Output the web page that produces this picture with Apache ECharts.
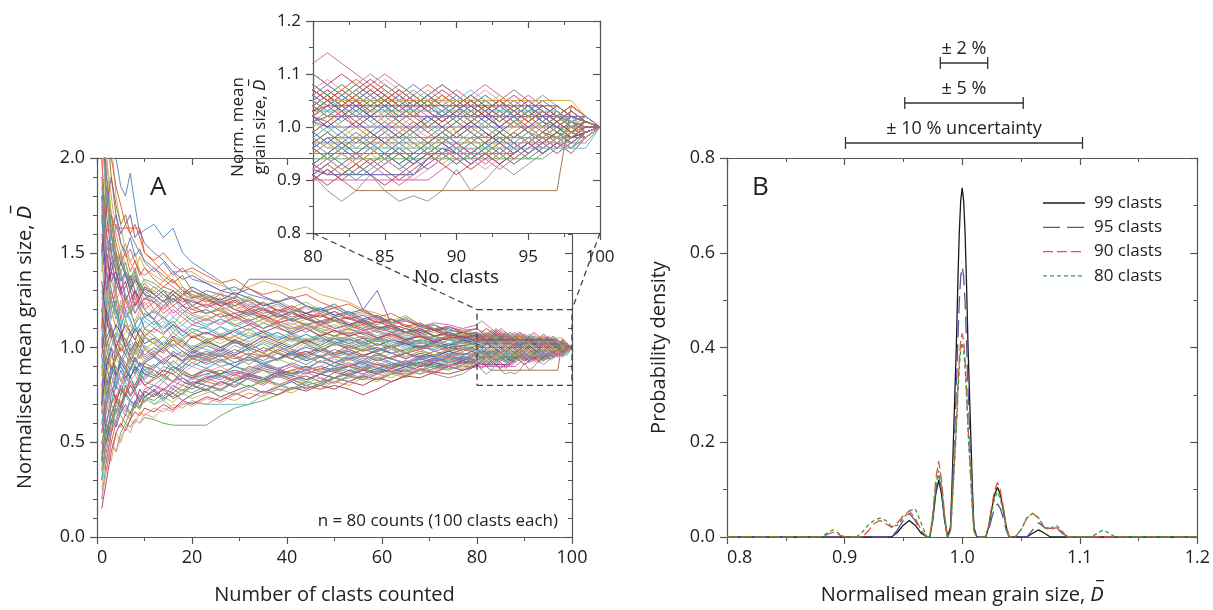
<!DOCTYPE html>
<html>
<head>
<meta charset="utf-8">
<script src="https://cdn.jsdelivr.net/npm/echarts@6/dist/echarts.min.js"></script>
<style>
html,body{margin:0;padding:0;background:#fff}
#chart{width:1213px;height:610px}
</style>
</head>
<body>
<div id="chart"></div>
<script>
// Clast counts at which each running mean is recorded
const clasts = [1,2,3,4,5,6,7,8,9,10,12,14,16,18,20,23,26,29,32,35,38,41,44,47,50,53,56,59,62,65,68,71,74,77,80,
                81,82,83,84,85,86,87,88,89,90,91,92,93,94,95,96,97,98,99,100];

// Normalised running mean grain size (x100) for each of the 80 counts
const runs = [
[260,210,230,200,185,180,192,175,160,162,165,158,163,150,145,140,135,128,122,120,118,115,118,120,117,115,113,110,112,108,106,105,104,106,104,106,103,105,102,104,106,103,105,102,104,101,103,105,102,104,101,103,100,102,100],
[230,190,170,163,163,163,163,163,163,150,145,140,135,130,128,125,122,118,120,116,112,110,112,108,106,108,105,104,106,103,102,104,102,101,102,101,103,100,102,104,101,103,100,102,99,101,103,100,102,99,101,100,102,99,100],
[150,180,160,140,150,145,135,140,130,125,130,135,140,140,140,135,133,130,132,135,133,130,132,128,126,124,120,118,115,112,110,106,104,105,103,105,103,105,103,101,103,105,107,105,103,105,103,101,103,101,103,101,99,101,100],
[70,120,150,130,140,125,120,130,125,120,115,122,128,124,126,130,128,126,136,136,136,136,136,136,136,136,120,130,112,108,106,104,106,104,102,104,102,100,102,104,102,104,106,104,102,104,102,100,102,104,102,100,98,100,100],
[40,60,50,45,55,60,58,62,60,63,62,60,59,59,59,59,64,68,70,72,75,78,80,82,84,86,88,87,90,91,92,94,95,94,96,94,96,98,96,94,96,94,96,98,96,94,96,98,96,98,96,98,100,98,100],
[30,50,60,70,65,75,70,68,72,75,70,72,68,70,71,70,70,70,70,75,78,78,79,80,82,84,85,88,87,90,92,94,93,95,96,98,96,94,96,98,96,98,100,98,96,98,100,98,96,98,100,98,97,99,100],
[90,80,85,100,95,90,85,88,92,90,88,85,90,86,84,88,85,82,86,84,80,83,80,78,80,78,75,78,82,85,88,87,90,92,93,95,97,95,93,95,97,95,97,99,97,95,97,99,97,95,97,99,101,99,100],
[120,140,160,150,130,140,135,125,130,128,120,125,118,122,120,118,120,115,118,116,120,118,115,117,114,116,113,115,112,114,111,113,112,110,112,114,112,110,108,110,108,106,108,106,104,106,108,106,104,106,104,102,104,102,100],
[50,60,70,65,75,80,75,78,72,76,80,78,82,80,84,82,85,83,86,84,87,85,88,86,84,86,84,87,88,86,88,86,84,86,91,88,86,88,91,88,86,87,86,88,92,88,90,93,91,93,95,97,96,98,100],
[60,50,70,80,75,85,80,78,82,85,88,85,82,86,84,86,88,85,90,88,86,88,90,87,89,90,88,91,89,92,90,91,89,90,90,92,90,88,88,88,88,88,88,88,88,88,88,88,88,88,88,88,104,102,100],
[180,150,130,120,110,100,95,90,88,86,84,88,86,82,80,84,86,88,86,90,88,86,88,90,88,90,92,89,91,90,92,90,91,92,92,91,91,91,91,91,91,91,94,96,95,97,95,97,99,97,99,98,100,99,100],
[200,150,120,110,125,115,120,112,118,110,108,112,105,110,106,108,104,106,102,105,108,104,102,105,103,101,104,102,100,103,101,102,100,101,102,100,102,104,102,100,102,100,98,100,102,104,102,100,102,100,101,99,101,100,100],
[20,40,55,70,80,75,85,78,82,88,85,90,88,92,90,94,90,92,95,92,94,96,93,95,92,94,96,93,95,97,95,96,98,96,97,99,97,95,97,99,97,99,97,99,101,99,97,99,97,99,98,100,98,100,100],
[310,250,210,180,165,150,145,150,140,135,132,128,125,130,122,118,120,116,112,115,112,110,113,110,108,110,107,109,106,108,105,106,104,105,103,105,103,105,107,105,103,105,103,101,103,105,103,101,103,101,103,101,102,101,100],
[100,130,115,125,110,120,115,108,112,118,115,110,114,108,112,110,106,109,105,108,104,107,103,106,102,105,101,104,100,103,99,102,100,101,99,101,99,97,99,101,99,97,95,97,99,97,99,97,95,97,99,97,99,98,100],
[45,35,50,60,58,65,62,70,68,72,75,78,76,80,78,82,80,84,86,83,85,88,86,89,87,90,88,91,89,92,90,93,94,92,95,95,95,95,95,95,95,95,95,95,97,95,97,99,97,95,97,99,97,99,100],
[170,200,180,160,150,155,145,140,148,142,138,135,140,132,128,125,120,122,118,115,117,114,112,110,112,109,111,108,106,108,105,104,106,103,104,102,104,106,104,102,104,102,100,102,104,102,104,102,100,102,104,102,100,102,100],
[80,100,90,85,95,92,88,95,90,93,96,92,98,95,99,96,100,97,102,98,101,97,100,98,102,99,101,98,100,102,99,101,100,98,101,102,102,102,102,102,102,102,102,102,102,102,102,102,102,102,102,102,102,102,100],
[150,110,130,120,105,115,108,112,104,110,106,102,108,104,100,104,100,103,99,102,98,101,104,100,103,101,99,102,100,98,101,99,102,100,98,100,98,96,98,100,98,96,98,100,102,100,98,100,102,100,98,100,99,101,100],
[60,80,70,85,78,82,75,80,86,82,80,84,82,86,83,86,84,88,85,83,87,85,88,86,90,88,91,89,92,90,93,91,94,95,93,95,93,95,97,95,93,95,97,95,93,95,97,95,97,99,97,95,97,99,100],
[240,170,150,140,130,135,125,130,122,126,124,120,126,122,118,120,116,118,114,117,113,115,112,114,110,112,109,111,108,110,107,109,106,108,105,107,105,107,109,107,105,103,105,107,105,103,105,103,101,103,105,103,101,102,100],
[110,90,100,95,105,100,96,102,98,95,98,94,97,93,96,94,97,95,93,96,94,97,95,92,95,94,96,93,95,97,94,96,95,97,96,98,98,98,98,98,98,98,98,98,98,98,98,98,98,98,98,98,98,98,100],
[35,70,90,80,95,88,100,92,98,105,102,106,100,104,108,104,106,102,105,108,104,106,103,105,102,104,106,103,105,102,104,103,101,103,105,103,105,103,101,103,105,107,105,103,105,103,105,103,101,103,101,99,101,99,100],
[190,160,140,150,135,140,132,138,130,134,128,132,130,126,124,122,126,120,118,121,116,119,115,117,114,112,115,111,110,108,110,106,108,105,107,105,107,105,103,105,107,105,103,101,103,105,103,105,107,105,103,101,103,101,100],
[70,55,65,72,68,76,72,70,78,74,77,73,76,72,75,78,74,77,80,76,79,82,78,81,84,82,85,83,86,88,86,89,90,88,91,93,91,93,95,97,95,93,95,97,95,93,95,93,95,97,95,97,99,98,100],
[130,120,140,125,130,118,122,128,120,124,118,122,116,120,114,117,113,116,112,115,111,113,110,112,108,110,107,109,106,104,106,103,105,102,104,106,104,106,104,102,100,102,104,102,104,106,104,102,104,102,100,102,100,101,100],
[95,75,85,90,82,88,84,80,86,83,88,84,90,87,85,89,86,90,88,92,89,91,88,93,90,92,89,94,91,93,90,95,92,94,93,95,95,95,95,95,95,95,95,95,95,95,95,95,95,97,99,97,99,98,100],
[280,200,170,150,145,140,130,135,128,132,130,126,130,125,128,126,129,124,127,122,125,121,124,120,122,118,120,116,114,117,112,110,108,106,108,106,108,106,104,106,104,102,104,106,104,102,104,106,104,102,100,102,101,100,100],
[55,75,85,78,88,82,90,86,92,88,91,87,93,89,95,91,94,90,96,93,97,94,91,95,92,96,93,97,94,92,96,94,97,95,93,91,93,91,93,95,93,91,93,95,93,95,97,95,93,95,97,99,97,99,100],
[160,140,120,130,115,125,118,122,128,120,124,118,122,126,120,123,119,116,120,117,114,118,115,112,116,113,110,114,111,108,112,109,106,104,107,105,107,109,107,105,107,105,103,105,107,105,103,105,103,101,103,101,103,101,100],
[25,45,40,55,50,58,62,60,66,64,68,66,70,68,72,70,74,72,76,74,78,76,80,78,82,80,84,82,86,84,88,86,90,89,91,93,91,93,95,93,95,97,95,93,95,97,95,97,99,97,95,97,99,98,100],
[120,105,112,100,108,104,98,103,100,106,102,98,104,100,97,101,98,103,100,97,102,99,96,100,97,101,98,100,97,99,101,98,100,99,101,100,100,100,100,100,100,100,100,100,100,100,100,100,100,100,100,100,100,100,100],
[85,110,125,115,120,128,118,124,120,116,120,116,112,118,114,111,115,112,109,113,110,108,112,109,106,110,107,104,108,105,103,106,104,102,105,103,105,107,105,103,101,103,105,103,101,103,101,99,101,103,101,103,101,102,100],
[210,180,150,130,140,128,122,118,124,120,114,110,116,112,108,111,107,110,106,109,105,108,104,107,103,106,102,105,101,104,103,100,102,104,101,99,101,103,101,99,97,99,101,99,97,99,101,103,101,99,101,99,97,99,100],
[65,90,80,72,78,74,80,76,71,77,74,78,73,76,80,77,82,79,84,81,86,83,85,82,87,85,88,86,89,87,90,92,90,93,91,89,91,93,91,89,91,93,95,93,91,93,95,93,95,97,95,97,95,98,100],
[140,160,150,165,155,148,152,145,140,138,142,136,132,128,130,126,122,124,119,121,117,114,116,112,114,110,112,108,110,106,108,104,106,103,105,107,105,103,105,107,105,103,101,103,105,103,101,103,105,103,101,103,101,99,100],
[100,95,105,98,93,99,96,102,97,94,97,100,95,98,94,97,93,96,99,95,98,94,97,100,96,99,96,98,101,97,99,96,98,100,97,97,97,97,97,97,97,97,97,97,97,97,97,97,97,97,97,97,97,97,100],
[40,85,70,75,68,80,74,78,84,80,83,86,82,88,85,88,86,90,87,91,89,86,90,88,92,90,93,91,89,92,94,92,95,93,96,94,96,98,96,94,96,94,92,94,96,98,96,94,96,98,96,98,96,98,100],
[170,130,140,135,145,138,130,136,132,128,126,130,124,128,132,128,125,129,126,122,124,120,118,121,117,119,115,117,113,115,111,109,110,107,108,106,104,106,108,106,104,106,104,102,104,106,104,102,104,102,104,102,104,102,100],
[75,65,80,88,84,78,82,86,80,84,88,85,82,86,90,87,90,86,89,92,89,91,88,90,94,91,93,90,94,92,95,93,96,94,96,98,96,94,96,98,100,98,96,98,96,94,96,98,96,98,100,98,100,99,100],
[125,140,125,118,122,116,120,112,116,110,114,108,112,106,110,107,111,106,110,105,108,104,107,103,106,104,102,105,103,101,104,102,100,103,101,103,101,103,105,103,101,99,101,103,101,103,101,99,101,103,101,99,101,100,100],
[90,70,60,65,72,68,64,70,67,73,70,74,71,76,73,76,78,75,79,82,80,83,81,84,82,85,83,86,84,88,86,89,91,90,92,94,92,94,96,94,92,94,96,94,96,98,96,94,96,94,96,98,96,99,100],
[230,190,160,170,155,150,158,148,152,145,140,145,138,142,136,134,130,132,128,126,124,127,122,120,123,118,120,116,113,115,111,112,109,108,106,104,106,104,102,104,106,108,106,104,106,104,102,104,102,104,102,104,102,101,100],
[50,45,60,75,70,76,82,78,84,80,84,88,86,90,94,92,96,94,97,95,99,96,98,95,97,99,96,98,100,97,99,101,98,100,99,101,103,101,99,97,99,101,99,97,99,101,99,97,99,101,99,101,99,100,100],
[115,100,90,96,102,98,94,100,104,99,103,99,105,101,106,103,107,104,108,105,102,106,103,107,104,106,103,105,107,104,106,103,105,104,102,105,105,105,105,105,105,105,105,105,105,105,105,105,105,105,105,105,105,102,100],
[150,175,190,170,160,165,170,158,162,155,150,146,140,136,138,134,130,128,131,127,124,126,122,119,121,117,114,116,112,110,108,110,107,105,106,108,106,104,106,104,102,104,106,104,102,104,102,100,102,104,102,100,102,101,100],
[60,70,85,95,90,86,92,88,84,90,86,82,88,84,80,83,86,82,85,88,84,87,83,86,89,87,90,88,91,89,92,90,93,91,94,94,94,94,94,94,94,94,94,94,94,94,94,94,94,94,94,96,98,99,100],
[105,125,110,105,115,110,106,112,108,114,110,114,108,112,116,112,115,111,114,110,113,109,112,108,111,107,110,106,109,105,107,104,106,103,105,103,105,107,105,103,105,103,101,103,105,107,105,103,105,103,105,103,101,102,100],
[15,30,45,55,60,56,62,66,64,68,66,70,67,72,70,74,72,76,73,77,75,79,77,80,78,82,80,84,82,85,84,87,86,88,90,92,90,92,94,92,90,92,94,96,94,92,94,96,94,96,98,96,98,99,100],
[180,140,125,135,128,120,125,118,122,116,119,115,120,116,112,115,112,116,113,110,114,111,108,112,109,106,109,105,108,104,107,103,106,104,102,104,102,100,98,100,102,104,102,100,102,100,98,100,102,100,98,100,102,101,100],
[90,105,95,100,92,96,102,98,94,99,95,100,96,92,97,94,98,95,91,96,93,97,94,98,95,97,94,96,99,95,98,96,99,97,95,97,95,97,99,97,95,93,95,97,95,97,99,97,95,97,99,97,99,98,100],
[270,220,190,175,165,170,160,155,150,146,142,138,134,138,130,127,124,126,121,118,120,116,118,114,116,112,114,110,111,108,109,106,107,105,104,102,104,102,104,106,104,102,100,102,104,102,104,102,100,102,104,102,100,101,100],
[70,90,100,85,92,88,84,90,86,92,95,91,96,93,98,95,99,96,100,97,94,98,95,99,96,98,95,99,97,94,97,95,98,96,99,97,99,101,99,97,99,97,95,97,99,101,99,97,99,97,99,101,99,98,100],
[130,110,115,122,118,126,120,124,128,122,126,120,124,128,126,122,125,120,123,119,122,118,121,117,119,116,118,114,112,115,110,112,108,110,107,109,107,105,107,109,107,105,103,105,107,105,107,105,103,105,103,101,103,101,100],
[30,55,65,60,68,64,72,68,75,71,76,72,78,75,80,78,82,80,84,82,86,84,82,86,88,86,89,87,90,88,91,89,92,94,92,94,92,90,92,94,96,94,92,94,96,94,96,98,96,94,96,98,96,99,100],
[145,125,135,128,120,126,118,114,120,116,112,116,110,114,118,115,118,114,117,113,116,112,115,111,114,110,113,109,112,108,106,108,105,107,104,102,104,106,104,102,104,102,104,106,104,102,100,102,104,102,100,102,104,102,100],
[80,60,75,85,90,84,88,94,90,86,90,94,90,88,92,89,93,90,94,91,88,92,89,93,90,94,91,95,92,90,94,92,95,93,96,98,96,94,96,94,92,94,96,98,96,94,96,98,96,98,96,98,100,98,100],
[200,160,170,155,145,150,140,146,138,142,136,132,136,130,127,124,128,122,125,120,118,121,116,118,114,116,112,114,110,112,108,110,106,108,104,106,104,106,108,106,104,102,104,106,104,102,104,102,104,102,100,102,104,102,100],
[110,130,120,110,104,108,112,106,102,108,104,100,105,102,98,102,99,104,100,97,101,98,103,99,102,100,98,102,99,97,100,102,99,101,98,96,98,100,98,96,98,100,102,100,98,100,98,96,98,100,98,100,98,99,100],
[45,50,62,58,66,70,65,72,69,74,78,74,80,77,82,80,78,82,85,83,87,85,83,86,84,88,86,89,87,90,88,92,90,93,91,93,95,93,91,93,95,93,95,97,95,93,95,97,95,97,95,97,99,98,100],
[165,185,165,150,140,145,135,140,132,136,134,130,128,132,126,128,124,122,126,123,120,118,122,119,116,118,114,112,115,111,109,112,108,106,108,106,108,106,104,106,108,106,104,102,104,106,104,102,104,102,100,102,100,101,100],
[95,85,100,108,102,96,104,100,95,101,98,103,100,96,101,99,96,101,98,103,100,97,101,99,96,99,102,98,100,97,101,99,102,100,98,96,96,96,96,96,96,96,96,96,96,96,96,96,96,96,96,96,96,96,100],
[110,150,135,140,130,125,130,122,126,132,128,124,130,126,122,126,122,125,120,124,119,122,118,116,119,115,117,113,115,111,113,109,111,108,110,108,110,108,106,108,106,104,106,108,106,104,102,104,106,104,102,104,102,101,100],
[55,70,78,74,80,86,82,78,84,80,77,82,78,84,81,84,81,86,83,80,85,82,87,84,81,85,83,86,88,85,89,87,90,92,90,90,90,90,90,90,90,90,90,92,94,96,94,92,94,96,98,96,98,99,100],
[250,180,160,145,150,140,136,142,134,130,126,122,126,120,117,114,118,112,115,110,113,108,111,106,109,107,110,105,108,104,106,103,105,102,104,102,104,102,100,102,104,106,104,102,104,102,100,102,104,102,100,102,101,100,100],
[75,95,88,94,100,96,92,98,104,100,96,100,104,100,106,102,106,103,100,104,101,105,102,98,102,100,103,99,101,104,100,102,99,101,103,105,103,101,103,105,103,101,99,101,103,101,103,105,103,101,103,101,99,101,100],
[135,115,105,112,108,100,104,110,106,102,105,101,106,103,99,103,100,104,101,106,103,100,104,101,105,102,105,101,104,102,100,103,101,104,102,100,102,104,102,100,98,100,102,100,98,100,102,100,98,100,102,100,98,99,100],
[20,35,50,45,52,58,55,62,60,65,63,68,66,71,69,73,71,75,78,76,80,78,82,80,84,82,86,84,88,86,89,88,91,90,92,94,92,94,96,94,92,90,92,94,96,94,92,94,96,98,96,98,96,98,100],
[185,150,160,145,135,140,132,128,134,128,124,128,122,118,122,118,121,116,119,115,118,114,117,112,115,111,113,109,111,107,109,106,108,104,106,104,106,108,106,104,102,104,106,104,102,104,106,104,102,104,102,100,102,101,100],
[85,100,110,104,98,105,100,96,102,106,102,106,101,105,108,105,102,106,103,107,104,101,105,102,106,103,100,104,102,99,103,101,104,102,100,102,100,98,100,102,100,98,96,98,100,102,100,98,100,102,100,98,100,99,100],
[105,80,90,85,92,88,95,90,86,92,89,93,88,92,96,93,96,92,95,91,94,97,93,96,92,95,92,96,94,91,95,93,96,94,97,95,97,99,97,95,93,95,97,99,97,95,97,99,97,95,97,99,97,99,100],
[300,240,200,185,175,165,160,165,158,150,146,150,144,140,142,138,134,136,131,128,130,126,128,124,121,123,119,116,118,114,112,110,111,108,107,105,107,105,103,105,107,105,103,101,103,105,103,105,103,101,103,101,99,101,100],
[65,85,95,90,82,88,94,90,96,92,89,94,91,96,92,95,92,96,93,97,94,91,95,92,96,93,96,94,97,95,98,96,94,97,95,97,95,93,95,97,99,97,95,97,99,97,95,97,99,97,99,97,99,98,100],
[155,130,145,135,128,132,138,130,126,131,128,124,128,122,125,121,124,120,117,120,116,119,115,113,116,112,114,110,112,108,110,106,108,105,107,105,103,105,107,105,103,105,103,101,103,105,103,101,103,105,103,101,103,101,100],
[40,60,55,68,64,60,66,70,68,74,72,76,74,78,76,80,77,82,79,83,81,78,82,80,84,82,85,83,87,85,88,90,88,91,93,95,93,91,93,95,93,95,97,95,93,95,97,95,93,95,97,99,97,99,100],
[115,135,125,118,112,118,114,108,112,116,112,116,110,106,110,107,111,108,105,109,106,103,107,104,101,104,102,105,103,100,103,101,104,102,103,103,103,103,103,103,103,103,103,103,103,103,103,103,103,103,103,103,101,102,100],
[95,120,108,100,106,112,108,104,110,106,110,107,112,109,105,108,105,109,112,108,111,107,110,106,109,106,108,105,107,104,106,103,105,106,103,104,104,104,104,104,104,104,104,104,104,104,104,104,104,104,104,104,102,101,100],
[50,40,55,62,70,66,72,76,73,78,80,77,82,84,81,85,83,87,85,89,87,90,88,86,89,91,89,92,90,93,91,94,92,95,93,91,93,95,93,91,89,91,93,95,97,95,93,95,97,95,97,95,97,99,100],
[175,145,155,142,148,140,134,138,132,128,132,128,124,127,130,126,123,127,124,120,123,119,122,118,121,117,119,115,113,116,112,110,111,109,110,108,106,108,110,108,106,104,106,108,106,104,106,104,102,104,106,104,102,101,100],
[120,100,110,104,98,102,108,104,100,96,100,97,102,98,95,98,95,99,96,100,97,94,98,95,99,96,99,97,94,97,95,98,96,99,97,99,97,95,97,99,101,99,97,99,101,99,97,99,101,99,97,99,98,100,100]
];

// Inset window (clasts 80-100, D 0.8-1.2)
const insetX = [80, 100];
const insetY = [0.8, 1.2];

// Kernel density of the normalised mean after subsampling N clasts
const kde99 = [[0.8,0],[0.94,0],[0.945,0.01],[0.95,0.025],[0.955,0.035],[0.96,0.025],[0.965,0.008],[0.97,0],[0.9725,0],[0.975,0.036],[0.9775,0.09],[0.98,0.12],[0.9825,0.09],[0.985,0.036],[0.9875,0],[0.99,0.02],[0.99125,0.1],[0.9925,0.2],[0.99375,0.3],[0.995,0.4],[0.99625,0.53],[0.9975,0.64],[0.99875,0.71],[1,0.737],[1.00125,0.71],[1.0025,0.64],[1.00375,0.53],[1.005,0.4],[1.00625,0.3],[1.0075,0.2],[1.00875,0.1],[1.01,0.02],[1.0125,0],[1.02,0],[1.0225,0.021],[1.025,0.058],[1.0275,0.089],[1.03,0.105],[1.0325,0.089],[1.035,0.058],[1.0375,0.021],[1.04,0],[1.055,0],[1.06,0.008],[1.065,0.015],[1.07,0.008],[1.075,0],[1.2,0]];
const kde95 = [[0.8,0],[0.94,0],[0.945,0.015],[0.95,0.035],[0.955,0.05],[0.96,0.035],[0.965,0.012],[0.97,0],[0.9725,0],[0.975,0.039],[0.9775,0.0975],[0.98,0.13],[0.9825,0.0975],[0.985,0.039],[0.9875,0],[0.99,0.015],[0.99125,0.078],[0.9925,0.155],[0.99375,0.23],[0.995,0.31],[0.99625,0.41],[0.9975,0.495],[0.99875,0.55],[1,0.57],[1.00125,0.55],[1.0025,0.495],[1.00375,0.41],[1.005,0.31],[1.00625,0.23],[1.0075,0.155],[1.00875,0.078],[1.01,0.015],[1.0125,0],[1.02,0],[1.0225,0.014],[1.025,0.039],[1.0275,0.06],[1.03,0.07],[1.0325,0.06],[1.035,0.039],[1.0375,0.014],[1.04,0],[1.055,0],[1.06,0.015],[1.065,0.03],[1.07,0.02],[1.075,0.018],[1.08,0.02],[1.085,0.008],[1.09,0],[1.2,0]];
const kde90 = [[0.8,0],[0.88,0],[0.885,0.005],[0.89,0.01],[0.895,0.005],[0.9,0],[0.915,0],[0.92,0.012],[0.925,0.028],[0.93,0.035],[0.935,0.028],[0.94,0.02],[0.945,0.03],[0.95,0.045],[0.955,0.055],[0.96,0.04],[0.965,0.015],[0.97,0],[0.9725,0],[0.975,0.048],[0.9775,0.12],[0.98,0.16],[0.9825,0.12],[0.985,0.048],[0.9875,0],[0.99,0.012],[0.99125,0.058],[0.9925,0.117],[0.99375,0.175],[0.995,0.233],[0.99625,0.31],[0.9975,0.373],[0.99875,0.414],[1,0.43],[1.00125,0.414],[1.0025,0.373],[1.00375,0.31],[1.005,0.233],[1.00625,0.175],[1.0075,0.117],[1.00875,0.058],[1.01,0.012],[1.0125,0],[1.02,0],[1.0225,0.023],[1.025,0.063],[1.0275,0.098],[1.03,0.115],[1.0325,0.098],[1.035,0.063],[1.0375,0.023],[1.04,0],[1.045,0],[1.05,0.015],[1.055,0.04],[1.06,0.05],[1.065,0.04],[1.07,0.02],[1.075,0.015],[1.08,0.02],[1.085,0.01],[1.09,0],[1.2,0]];
const kde80 = [[0.8,0],[0.88,0],[0.885,0.008],[0.89,0.015],[0.895,0.008],[0.9,0],[0.91,0],[0.915,0.01],[0.92,0.025],[0.925,0.035],[0.93,0.04],[0.935,0.035],[0.94,0.022],[0.945,0.025],[0.95,0.04],[0.955,0.055],[0.96,0.06],[0.965,0.03],[0.97,0],[0.9725,0],[0.975,0.042],[0.9775,0.105],[0.98,0.14],[0.9825,0.105],[0.985,0.042],[0.9875,0],[0.99,0.011],[0.99125,0.056],[0.9925,0.111],[0.99375,0.167],[0.995,0.223],[0.99625,0.295],[0.9975,0.356],[0.99875,0.395],[1,0.41],[1.00125,0.395],[1.0025,0.356],[1.00375,0.295],[1.005,0.223],[1.00625,0.167],[1.0075,0.111],[1.00875,0.056],[1.01,0.011],[1.0125,0],[1.02,0],[1.0225,0.019],[1.025,0.052],[1.0275,0.081],[1.03,0.095],[1.0325,0.081],[1.035,0.052],[1.0375,0.019],[1.04,0],[1.045,0],[1.05,0.015],[1.055,0.04],[1.06,0.05],[1.065,0.04],[1.07,0.02],[1.075,0.018],[1.08,0.025],[1.085,0.012],[1.09,0],[1.11,0],[1.115,0.008],[1.12,0.015],[1.125,0.008],[1.13,0],[1.2,0]];
const kdeNames = ['99 clasts', '95 clasts', '90 clasts', '80 clasts'];

// Uncertainty bands drawn above panel B
const bands = [[0.98, 1.02], [0.95, 1.05], [0.90, 1.10]];
const bandLabels = ['± 2 %', '± 5 %', '± 10 % uncertainty'];

const FONT = '"Open Sans", "Noto Sans", sans-serif';
const INK = '#222';
const AXIS = '#555';
const palette = ['#4f81bd','#e4572e','#d9a441','#7e57a5','#62a35a','#5bb6cf','#b5364a','#d35aa0','#8c8c8c','#9a6b3f','#3f4f9f','#e98fb0','#4f9c95','#b8b84a'];

function axis(o) {
  const base = {
    type: 'value',
    axisLine: { show: true, onZero: false, lineStyle: { color: AXIS, width: 1.2 } },
    axisTick: { show: true, inside: !!o.tickInside, length: 7, lineStyle: { color: AXIS, width: 1.2 } },
    minorTick: { show: true, splitNumber: o.minor || 2, length: 4, lineStyle: { color: AXIS, width: 1 } },
    splitLine: { show: false },
    axisLabel: { show: !o.noLabel, color: INK, fontSize: o.labelSize || 18, fontFamily: FONT, margin: o.margin || 12,
                 formatter: o.fmt, alignMinLabel: o.alignMin },
    nameTextStyle: { color: INK, fontSize: o.nameSize || 20, fontFamily: FONT, lineHeight: o.lineHeight,
                     rich: { i: { fontStyle: 'italic', fontSize: o.nameSize || 20, fontFamily: FONT, color: INK } } },
    nameLocation: 'middle',
    z: o.z || 0
  };
  ['tickInside','minor','noLabel','labelSize','margin','fmt','nameSize','lineHeight','alignMin'].forEach(k => delete o[k]);
  return Object.assign(base, o);
}
const f1 = v => v.toFixed(1);

const xAxes = [
  axis({ gridIndex: 0, min: 0, max: 100, interval: 20, position: 'bottom', name: 'Number of clasts counted', nameGap: 48, alignMin: 'left' }),
  axis({ gridIndex: 0, min: 0, max: 100, interval: 20, position: 'top', tickInside: true, noLabel: true }),
  axis({ gridIndex: 1, min: insetX[0], max: insetX[1], interval: 5, position: 'bottom', name: 'No. clasts', nameGap: 35, labelSize: 17, nameSize: 19, margin: 16, z: 10 }),
  axis({ gridIndex: 1, min: insetX[0], max: insetX[1], interval: 5, position: 'top', tickInside: true, noLabel: true, z: 10 }),
  axis({ gridIndex: 2, min: 0.8, max: 1.2, interval: 0.1, position: 'bottom', name: 'Normalised mean grain size, {i|D\u0305}', nameGap: 48, fmt: f1, alignMin: 'left' }),
  axis({ gridIndex: 2, min: 0.8, max: 1.2, interval: 0.1, position: 'top', tickInside: true, noLabel: true }),
  { type: 'value', gridIndex: 3, min: 0.8, max: 1.2, show: false }
];
const yAxes = [
  axis({ gridIndex: 0, min: 0, max: 2, interval: 0.5, minor: 5, position: 'left', name: 'Normalised mean grain size, {i|D\u0305}', nameGap: 62, fmt: f1 }),
  axis({ gridIndex: 0, min: 0, max: 2, interval: 0.5, minor: 5, position: 'right', tickInside: true, noLabel: true }),
  axis({ gridIndex: 1, min: insetY[0], max: insetY[1], interval: 0.1, position: 'left', name: 'Norm. mean\ngrain size, {i|D\u0305}', nameGap: 42, labelSize: 17, nameSize: 17, lineHeight: 22, margin: 12, fmt: f1, z: 10 }),
  axis({ gridIndex: 1, min: insetY[0], max: insetY[1], interval: 0.1, position: 'right', tickInside: true, noLabel: true, z: 10 }),
  axis({ gridIndex: 2, min: 0, max: 0.8, interval: 0.2, position: 'left', name: 'Probability density', nameGap: 58, fmt: f1 }),
  axis({ gridIndex: 2, min: 0, max: 0.8, interval: 0.2, position: 'right', tickInside: true, noLabel: true }),
  { type: 'value', gridIndex: 3, min: -0.5, max: 2.5, inverse: true, show: false }
];

const series = [];
runs.forEach((r, k) => {
  const pts = clasts.map((c, i) => [c, r[i] / 100]);
  const color = palette[k % palette.length];
  const common = { type: 'line', data: pts, symbol: 'none', silent: true, animation: false,
                   lineStyle: { width: 1, color: color, opacity: 0.9 } };
  series.push(Object.assign({}, common, { xAxisIndex: 0, yAxisIndex: 0, z: 2 }));
  series.push(Object.assign({}, common, { xAxisIndex: 2, yAxisIndex: 2, z: 11 }));
});

// zoom window outline in panel A
series.push({
  type: 'line', xAxisIndex: 0, yAxisIndex: 0, z: 6, symbol: 'none', silent: true, animation: false,
  data: [[insetX[0], insetY[0]], [insetX[1], insetY[0]], [insetX[1], insetY[1]], [insetX[0], insetY[1]], [insetX[0], insetY[0]]],
  lineStyle: { color: '#444', width: 1.4, type: [6, 4] }
});

const kdeStyles = [
  { data: kde99, color: '#1a1a1a', dash: null },
  { data: kde95, color: '#55559f', dash: [17, 7] },
  { data: kde90, color: '#e8503c', dash: [10, 4] },
  { data: kde80, color: '#3c9e3c', dash: [4, 3] }
];
kdeStyles.forEach((s, i) => {
  series.push({
    type: 'line', name: kdeNames[i], xAxisIndex: 4, yAxisIndex: 4, data: s.data, symbol: 'none',
    silent: true, animation: false, z: 3 + i, color: s.color,
    lineStyle: { color: s.color, width: 1.3, type: s.dash || 'solid' }
  });
});

series.push({
  type: 'custom', xAxisIndex: 6, yAxisIndex: 6, silent: true, animation: false,
  data: bands.map((b, i) => [b[0], b[1], i]),
  renderItem: function (params, api) {
    const lo = api.coord([api.value(0), api.value(2)]);
    const hi = api.coord([api.value(1), api.value(2)]);
    const st = { stroke: '#333', lineWidth: 1.3 };
    return {
      type: 'group', children: [
        { type: 'line', shape: { x1: lo[0], y1: lo[1], x2: hi[0], y2: hi[1] }, style: st },
        { type: 'line', shape: { x1: lo[0], y1: lo[1] - 6, x2: lo[0], y2: lo[1] + 6 }, style: st },
        { type: 'line', shape: { x1: hi[0], y1: hi[1] - 6, x2: hi[0], y2: hi[1] + 6 }, style: st },
        { type: 'text', x: (lo[0] + hi[0]) / 2, y: lo[1] - 5,
          style: { text: bandLabels[params.dataIndex], fill: INK, font: '18px ' + FONT, align: 'center', verticalAlign: 'bottom' } }
      ]
    };
  }
});

const chart = echarts.init(document.getElementById('chart'), null, { renderer: 'canvas' });
chart.setOption({
  animation: false,
  backgroundColor: '#fff',
  grid: [
    { left: 97, top: 158, width: 475, height: 382 },
    { left: 313, top: 21, width: 287, height: 212 },
    { left: 727, top: 158, width: 474, height: 381 },
    { left: 727, top: 43, width: 474, height: 120 }
  ],
  xAxis: xAxes,
  yAxis: yAxes,
  series: series
});

// Inset backdrop, connector lines, legend and panel annotations
const p = (g, v) => chart.convertToPixel({ gridIndex: g }, v);
const inTL = p(1, [insetX[0], insetY[1]]), inBR = p(1, [insetX[1], insetY[0]]);
const boxTL = p(0, [insetX[0], insetY[1]]), boxTR = p(0, [insetX[1], insetY[1]]);
const dash = { stroke: '#444', lineWidth: 1.3, lineDash: [6, 4] };
const graphics = [
  { type: 'rect', z: 5, silent: true, shape: { x: inTL[0], y: inTL[1], width: inBR[0] - inTL[0], height: inBR[1] - inTL[1] }, style: { fill: '#fff' } },
  { type: 'line', z: 20, silent: true, shape: { x1: inTL[0], y1: inBR[1], x2: boxTL[0], y2: boxTL[1] }, style: dash },
  { type: 'line', z: 20, silent: true, shape: { x1: inBR[0], y1: inBR[1], x2: boxTR[0], y2: boxTR[1] }, style: dash },
  { type: 'text', z: 20, left: 150, top: 175, style: { text: 'A', fill: INK, font: '26px ' + FONT } },
  { type: 'text', z: 20, left: 752, top: 175, style: { text: 'B', fill: INK, font: '26px ' + FONT } },
  { type: 'text', z: 20, right: 1213 - 558, top: 513, style: { text: 'n = 80 counts (100 clasts each)', fill: INK, font: '17px ' + FONT } }
];
kdeStyles.forEach((s, i) => {
  const y = 203 + i * 24.3;
  graphics.push({ type: 'line', z: 20, silent: true, shape: { x1: 1043, y1: y, x2: 1085, y2: y },
                  style: { stroke: s.color, lineWidth: 1.3, lineDash: s.dash } });
  graphics.push({ type: 'text', z: 20, silent: true, x: 1094, y: y,
                  style: { text: kdeNames[i], fill: INK, font: '17px ' + FONT, verticalAlign: 'middle' } });
});
chart.setOption({ graphic: graphics });
</script>
</body>
</html>
